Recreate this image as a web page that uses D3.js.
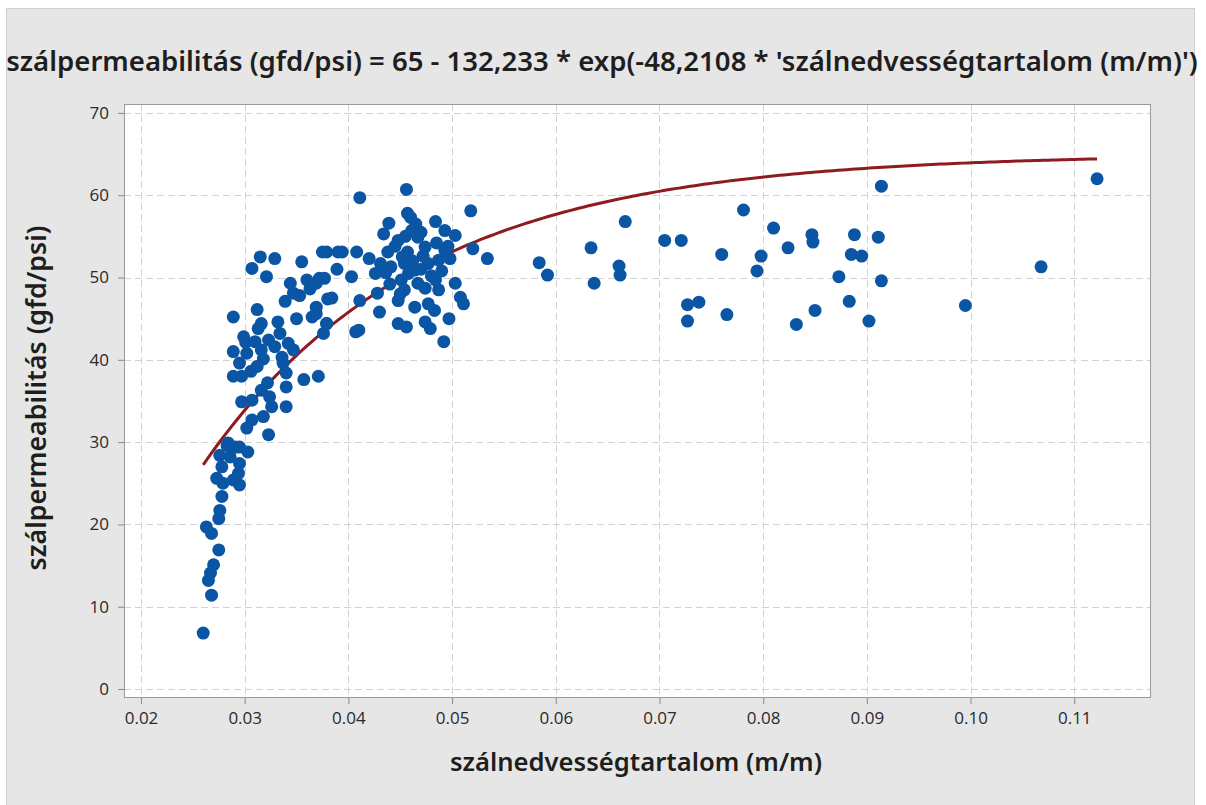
<!DOCTYPE html>
<html>
<head>
<meta charset="utf-8">
<script src="https://cdn.jsdelivr.net/npm/d3@7"></script>
<style>
  html, body { margin: 0; padding: 0; background: #ffffff; }
  svg { display: block; }
  text { font-family: "Noto Sans", "Open Sans", "DejaVu Sans", sans-serif; }
</style>
</head>
<body>
<svg id="chart" width="1206" height="805"></svg>
<script>
// Fitted model: permeability = A - B * exp(-C * moisture)
const fitA = 65;
const fitB = 132.233;
const fitC = 48.2108;

const titleText = "szálpermeabilitás (gfd/psi) = 65 - 132,233 * exp(-48,2108 * 'szálnedvességtartalom (m/m)')";
const xTitle = "szálnedvességtartalom (m/m)";
const yTitle = "szálpermeabilitás (gfd/psi)";

const xTicks = [0.02, 0.03, 0.04, 0.05, 0.06, 0.07, 0.08, 0.09, 0.10, 0.11];
const yTicks = [0, 10, 20, 30, 40, 50, 60, 70];

// Fibre moisture content (m/m)
const moisture = [
  // low-moisture tail
  0.0260, 0.0268, 0.0265, 0.0267, 0.0270, 0.0275, 0.0268, 0.0263, 0.0275, 0.0276,
  0.0278, 0.0279, 0.0295, 0.0289, 0.0273, 0.0294, 0.0278, 0.0295, 0.0286, 0.0276,
  0.0303, 0.0291, 0.0283, 0.0295, 0.0284,
  // rising branch
  0.0323, 0.0302, 0.0318, 0.0307, 0.0340, 0.0326, 0.0307, 0.0297, 0.0324, 0.0316,
  0.0340, 0.0371, 0.0357, 0.0340, 0.0297, 0.0289, 0.0337, 0.0312, 0.0295, 0.0347,
  0.0316, 0.0302, 0.0289, 0.0342, 0.0323, 0.0310, 0.0334, 0.0299, 0.0410, 0.0376,
  0.0379, 0.0365, 0.0316, 0.0350, 0.0369, 0.0289, 0.0312, 0.0384, 0.0339, 0.0347,
  0.0377, 0.0369, 0.0360, 0.0344, 0.0321, 0.0307, 0.0355, 0.0329, 0.0315, 0.0379,
  0.0394, 0.0306, 0.0318, 0.0329, 0.0301, 0.0313, 0.0332, 0.0336, 0.0322, 0.0353,
  0.0363,
  // main cluster
  0.0411, 0.0456, 0.0518, 0.0457, 0.0439, 0.0484, 0.0434, 0.0461, 0.0467, 0.0493,
  0.0503, 0.0448, 0.0375, 0.0390, 0.0408, 0.0420, 0.0438, 0.0457, 0.0474, 0.0493,
  0.0520, 0.0534, 0.0389, 0.0431, 0.0441, 0.0454, 0.0464, 0.0477, 0.0487, 0.0498,
  0.0372, 0.0403, 0.0426, 0.0451, 0.0467, 0.0484, 0.0503, 0.0454, 0.0474, 0.0487,
  0.0380, 0.0428, 0.0411, 0.0448, 0.0430, 0.0464, 0.0477, 0.0508, 0.0511, 0.0369,
  0.0379, 0.0448, 0.0456, 0.0474, 0.0479, 0.0497, 0.0407, 0.0492, 0.0445, 0.0452,
  0.0462, 0.0470, 0.0458, 0.0480, 0.0490, 0.0470, 0.0465, 0.0455, 0.0485, 0.0496,
  0.0460, 0.0450, 0.0440, 0.0483, 0.0436, 0.0472,
  // high-moisture scatter
  0.0584, 0.0592, 0.0634, 0.0637, 0.0667, 0.0661, 0.0662, 0.0705, 0.0721, 0.0727,
  0.0738, 0.0727, 0.0760, 0.0765, 0.0781, 0.0798, 0.0794, 0.0810, 0.0824, 0.0832,
  0.0847, 0.0848, 0.0850, 0.0873, 0.0883, 0.0885, 0.0888, 0.0895, 0.0902, 0.0911,
  0.0914, 0.0914, 0.0995, 0.1068, 0.1122
];

// Fibre permeability (gfd/psi)
const permeability = [
  // low-moisture tail
  6.8, 11.4, 13.2, 14.1, 15.1, 16.9, 18.9, 19.7, 20.7, 21.7,
  23.4, 25.0, 24.8, 25.4, 25.6, 26.2, 27.0, 27.4, 28.2, 28.4,
  28.8, 29.4, 29.6, 29.4, 29.9,
  // rising branch
  30.9, 31.7, 33.1, 32.7, 34.3, 34.3, 35.1, 34.9, 35.5, 36.3,
  36.7, 38.0, 37.6, 38.4, 38.0, 38.0, 39.6, 39.2, 39.6, 41.2,
  41.2, 40.8, 41.0, 42.0, 42.4, 42.2, 43.2, 42.8, 43.6, 43.2,
  44.4, 45.2, 44.4, 45.0, 46.4, 45.2, 46.1, 47.5, 47.1, 48.1,
  49.9, 49.3, 49.7, 49.3, 50.1, 51.1, 51.9, 52.3, 52.5, 53.1,
  53.1, 38.6, 40.1, 41.6, 42.1, 43.8, 44.6, 40.3, 37.2, 47.8,
  48.6,
  // main cluster
  59.7, 60.7, 58.1, 57.8, 56.6, 56.8, 55.3, 55.7, 54.9, 55.7,
  55.1, 54.5, 53.1, 53.1, 53.1, 52.3, 53.1, 53.1, 53.7, 53.3,
  53.5, 52.3, 51.0, 51.7, 51.3, 51.7, 50.9, 51.7, 52.1, 52.3,
  49.9, 50.1, 50.5, 49.7, 49.3, 49.7, 49.3, 48.5, 48.7, 48.5,
  47.4, 48.1, 47.2, 47.2, 45.8, 46.4, 46.8, 47.6, 46.8, 45.6,
  44.4, 44.4, 44.0, 44.6, 43.8, 45.0, 43.4, 42.2, 53.8, 52.5,
  52.0, 51.0, 50.5, 50.2, 50.8, 55.5, 56.5, 55.0, 54.2, 53.8,
  57.3, 48.0, 49.2, 46.0, 50.6, 52.6,
  // high-moisture scatter
  51.8, 50.3, 53.6, 49.3, 56.8, 51.4, 50.3, 54.5, 54.5, 46.7,
  47.0, 44.7, 52.8, 45.5, 58.2, 52.6, 50.8, 56.0, 53.6, 44.3,
  55.2, 54.3, 46.0, 50.1, 47.1, 52.8, 55.2, 52.6, 44.7, 54.9,
  61.1, 49.6, 46.6, 51.3, 62.0
];

const svg = d3.select("#chart");
const W = 1206, H = 805;

// Window backdrop
svg.append("rect").attr("x", 0).attr("y", 0).attr("width", W).attr("height", H).attr("fill", "#ffffff");
svg.append("rect").attr("x", 6.5).attr("y", 8.5).attr("width", 1188).attr("height", 800)
  .attr("fill", "#e6e6e6").attr("stroke", "#cfcfcf");

// Data area
const plot = { left: 124, right: 1151, top: 104, bottom: 698 };

const x = d3.scaleLinear().domain([0.01836, 0.1174]).range([plot.left, plot.right]);
const y = d3.scaleLinear().domain([-1.09, 71.08]).range([plot.bottom, plot.top]);

svg.append("rect")
  .attr("x", plot.left).attr("y", plot.top)
  .attr("width", plot.right - plot.left).attr("height", plot.bottom - plot.top)
  .attr("fill", "#ffffff");

// Dashed reference grid
const grid = svg.append("g").attr("stroke", "#d2d2d2").attr("stroke-width", 1).attr("stroke-dasharray", "7,4");
grid.selectAll("line.v").data(xTicks).join("line")
  .attr("class", "v")
  .attr("x1", d => Math.round(x(d)) + 0.5).attr("x2", d => Math.round(x(d)) + 0.5)
  .attr("y1", plot.top).attr("y2", plot.bottom);
grid.selectAll("line.h").data(yTicks).join("line")
  .attr("class", "h")
  .attr("y1", d => Math.round(y(d)) + 0.5).attr("y2", d => Math.round(y(d)) + 0.5)
  .attr("x1", plot.left).attr("x2", plot.right);

// Axes
const xAxis = d3.axisBottom(x).tickValues(xTicks).tickFormat(d3.format(".2f")).tickSize(6).tickPadding(8);
const yAxis = d3.axisLeft(y).tickValues(yTicks).tickFormat(d3.format("d")).tickSize(6).tickPadding(9);

const gx = svg.append("g").attr("transform", `translate(0,${plot.bottom})`).call(xAxis);
const gy = svg.append("g").attr("transform", `translate(${plot.left},0)`).call(yAxis);

[gx, gy].forEach(g => {
  g.select(".domain").remove();
  g.selectAll(".tick line").attr("stroke", "#8a8a8a");
  g.selectAll(".tick text")
    .attr("fill", "#2a2a2a")
    .style("font-size", "17px")
    .style("font-family", "'Open Sans', 'Noto Sans', sans-serif");
});

// Fitted curve over the observed moisture range
const [xmin, xmax] = d3.extent(moisture);
const curve = d3.range(0, 201).map(i => {
  const m = xmin + (xmax - xmin) * i / 200;
  return [m, fitA - fitB * Math.exp(-fitC * m)];
});
svg.append("path")
  .datum(curve)
  .attr("fill", "none")
  .attr("stroke", "#8e1b1f")
  .attr("stroke-width", 3)
  .attr("d", d3.line().x(d => x(d[0])).y(d => y(d[1])));

// Observations
const pts = moisture.map((m, i) => ({ m, p: permeability[i] }));
svg.append("g").selectAll("circle").data(pts).join("circle")
  .attr("cx", d => x(d.m))
  .attr("cy", d => y(d.p))
  .attr("r", 6.5)
  .attr("fill", "#0b56a4");

// Frame
svg.append("rect")
  .attr("x", plot.left + 0.5).attr("y", plot.top + 0.5)
  .attr("width", plot.right - plot.left - 1).attr("height", plot.bottom - plot.top - 1)
  .attr("fill", "none").attr("stroke", "#9a9a9a").attr("stroke-width", 1);

// Text fitted to a target width by adjusting font size
function fitText(sel, width) {
  const w = sel.node().getComputedTextLength();
  const fs = parseFloat(sel.style("font-size"));
  sel.style("font-size", (fs * width / w).toFixed(2) + "px");
}

const title = svg.append("text")
  .attr("x", 602).attr("y", 71)
  .attr("text-anchor", "middle")
  .attr("fill", "#1e1e1e")
  .style("font-size", "22px").style("font-weight", 600)
  .text(titleText);
fitText(title, 1192);

const xt = svg.append("text")
  .attr("x", 636).attr("y", 771)
  .attr("text-anchor", "middle")
  .attr("fill", "#1e1e1e")
  .style("font-size", "22px").style("font-weight", 600)
  .text(xTitle);
fitText(xt, 372);

const yt = svg.append("text")
  .attr("transform", "translate(46,398) rotate(-90)")
  .attr("text-anchor", "middle")
  .attr("fill", "#1e1e1e")
  .style("font-size", "22px").style("font-weight", 600)
  .text(yTitle);
fitText(yt, 345);
</script>
</body>
</html>
